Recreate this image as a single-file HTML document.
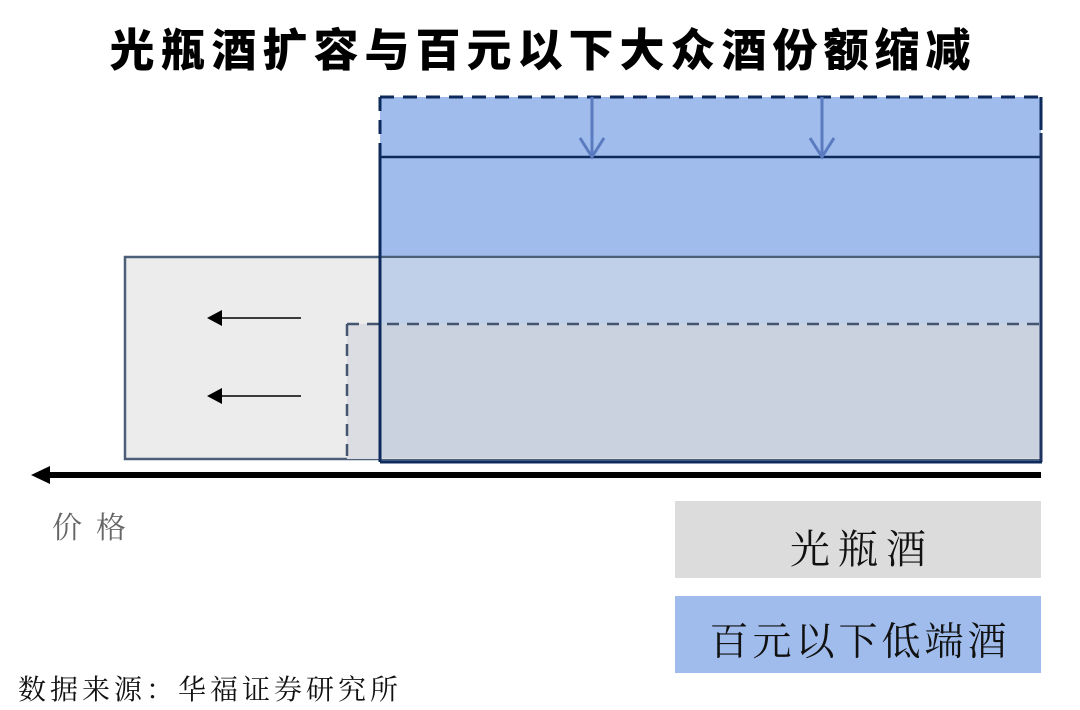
<!DOCTYPE html>
<html><head><meta charset="utf-8"><style>
html,body{margin:0;padding:0;background:#fff;}
body{width:1080px;height:710px;position:relative;overflow:hidden;font-family:"Liberation Sans","Noto Sans CJK SC",sans-serif;}
.t{position:absolute;white-space:nowrap;}
</style></head><body>
<svg width="1080" height="710" style="position:absolute;left:0;top:0">
<!-- blue rect -->
<rect x="380" y="97" width="661" height="365" fill="#9fbcec"/>
<!-- gray rect -->
<rect x="125" y="257" width="916" height="202" fill="#ececec" stroke="#4c5f78" stroke-width="2.5"/>
<rect x="381" y="258" width="659" height="200" fill="#c0d0e8"/>
<!-- dashed gray region -->
<rect x="347" y="324" width="694" height="135" fill="#dcdde3"/>
<rect x="381" y="324" width="659" height="134" fill="#cbd2df"/>
<line x1="347" y1="324" x2="1040" y2="324" stroke="#44556f" stroke-width="2.5" stroke-dasharray="12,8"/>
<line x1="347" y1="324" x2="347" y2="459" stroke="#44556f" stroke-width="2.5" stroke-dasharray="12,8"/>
<!-- blue borders -->
<line x1="380" y1="97" x2="1041" y2="97" stroke="#0e2a5c" stroke-width="3" stroke-dasharray="14,9"/>
<line x1="380" y1="97" x2="380" y2="157" stroke="#0e2a5c" stroke-width="3" stroke-dasharray="14,9"/>
<line x1="1041" y1="97" x2="1041" y2="130" stroke="#0e2a5c" stroke-width="3"/>
<line x1="380" y1="157" x2="1041" y2="157" stroke="#0e2a5c" stroke-width="2.5"/>
<line x1="380" y1="157" x2="380" y2="462" stroke="#0e2a5c" stroke-width="3"/>
<line x1="1041" y1="133" x2="1041" y2="462" stroke="#1e3560" stroke-width="3"/>
<line x1="380" y1="462" x2="1042" y2="462" stroke="#0e2a5c" stroke-width="3"/>
<!-- down arrows -->
<g stroke="#5b7bc0" stroke-width="3" fill="none">
<line x1="592" y1="97" x2="592" y2="156"/>
<path d="M580,138 L592,157 L604,138"/>
<line x1="822" y1="97" x2="822" y2="156"/>
<path d="M810,138 L822,157 L834,138"/>
</g>
<!-- left arrows -->
<line x1="301" y1="318" x2="220" y2="318" stroke="#000" stroke-width="1.5"/>
<polygon points="207,318 222,310 222,326" fill="#000"/>
<line x1="301" y1="396" x2="220" y2="396" stroke="#000" stroke-width="1.5"/>
<polygon points="207,396 222,388 222,404" fill="#000"/>
<!-- axis -->
<rect x="45" y="472" width="996" height="6" fill="#000"/>
<polygon points="31,475 50,466 50,484" fill="#000"/>
<!-- legend -->
<rect x="675" y="501" width="366" height="77" fill="#dcdcdc"/>
<rect x="675" y="596" width="366" height="77" fill="#9fbcec"/>
</svg>
<div class="t" style="left:0;width:1080px;text-align:center;top:14px;font-size:45px;font-weight:900;color:#000;letter-spacing:6px;text-indent:6px;">光瓶酒扩容与百元以下大众酒份额缩减</div>
<div class="t" style="left:52px;top:503px;font-size:30px;color:#666;letter-spacing:14px;font-family:'Liberation Serif','Noto Serif CJK SC',serif;">价格</div>
<div class="t" style="left:675px;width:366px;text-align:center;top:518px;font-size:40px;color:#111;letter-spacing:8px;text-indent:8px;font-family:'Liberation Serif','Noto Serif CJK SC',serif;">光瓶酒</div>
<div class="t" style="left:675px;width:366px;text-align:center;top:611px;font-size:39px;color:#111;letter-spacing:4px;text-indent:4px;font-family:'Liberation Serif','Noto Serif CJK SC',serif;">百元以下低端酒</div>
<div class="t" style="left:18px;top:668px;font-size:28px;color:#111;letter-spacing:4px;font-family:'Liberation Serif','Noto Serif CJK SC',serif;">数据来源：华福证券研究所</div>
</body></html>
